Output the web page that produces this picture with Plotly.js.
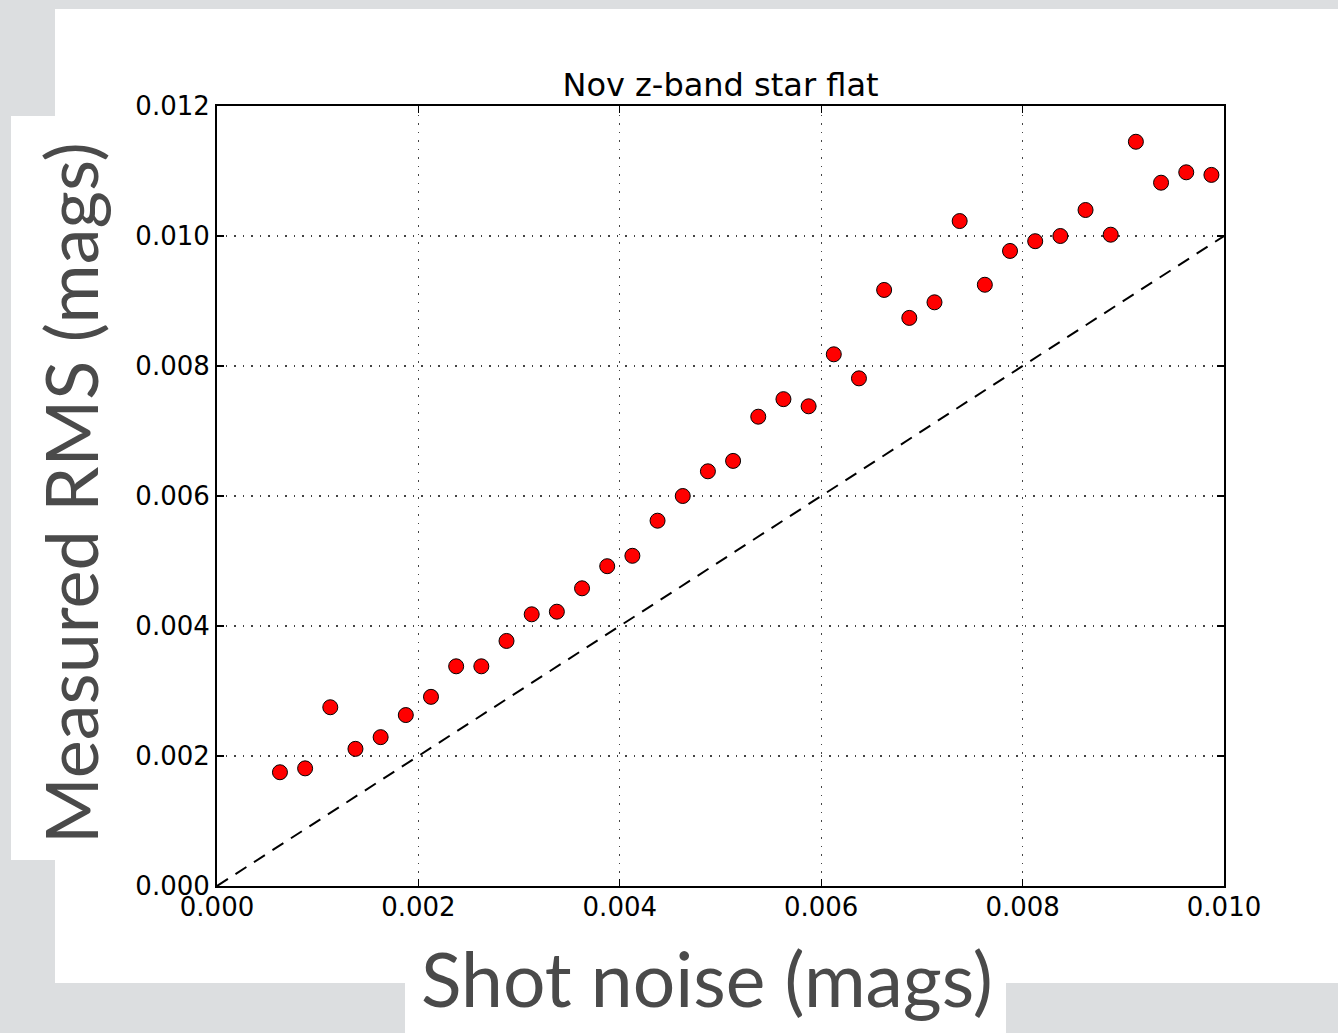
<!DOCTYPE html>
<html>
<head>
<meta charset="utf-8">
<script src="https://cdn.plot.ly/plotly-3.0.1.min.js"></script>
<style>
  html, body { margin: 0; padding: 0; background: #dcdee0; }
  #chart { width: 1338px; height: 1033px; }
</style>
</head>
<body>
<div id="chart"></div>
<script>
// ---- data ----
const shotNoise = [
  0.000625, 0.000875, 0.001125, 0.001375, 0.001625, 0.001875, 0.002125, 0.002375,
  0.002625, 0.002875, 0.003125, 0.003375, 0.003625, 0.003875, 0.004125, 0.004375,
  0.004625, 0.004875, 0.005125, 0.005375, 0.005625, 0.005875, 0.006125, 0.006375,
  0.006625, 0.006875, 0.007125, 0.007375, 0.007625, 0.007875, 0.008125, 0.008375,
  0.008625, 0.008875, 0.009125, 0.009375, 0.009625, 0.009875
];
const measuredRMS = [
  0.00175, 0.00181, 0.00275, 0.00211, 0.00229, 0.00263, 0.00291, 0.00338,
  0.00338, 0.00377, 0.00418, 0.00422, 0.00458, 0.00492, 0.00508, 0.00562,
  0.00600, 0.00638, 0.00654, 0.00722, 0.00749, 0.00738, 0.00818, 0.00781,
  0.00917, 0.00874, 0.00898, 0.01023, 0.00925, 0.00977, 0.00992, 0.01000,
  0.01040, 0.01002, 0.01145, 0.01082, 0.01098, 0.01094
];
const refLineX = [0.000, 0.010];
const refLineY = [0.000, 0.010];
const xTickVals = [0.000, 0.002, 0.004, 0.006, 0.008, 0.010];
const xTickText = ['0.000', '0.002', '0.004', '0.006', '0.008', '0.010'];
const yTickVals = [0.000, 0.002, 0.004, 0.006, 0.008, 0.010, 0.012];
const yTickText = ['0.000', '0.002', '0.004', '0.006', '0.008', '0.010', '0.012'];
const chartTitle = 'Nov z-band star flat';
const xTitle = 'Shot noise (mags)';
const yTitle = 'Measured RMS (mags)';

// ---- layout geometry (pixels) ----
const W = 1338, H = 1033;
const M = { l: 217, r: 114, t: 106, b: 147 };
const pw = W - M.l - M.r, ph = H - M.t - M.b;
const px = v => (v - M.l) / pw;          // pixel x -> paper x
const py = v => (H - M.b - v) / ph;      // pixel y -> paper y

const whiteBox = (x0, y0, x1, y1) => ({
  type: 'rect', xref: 'paper', yref: 'paper', layer: 'below',
  x0: px(x0), x1: px(x1), y0: py(y1), y1: py(y0),
  fillcolor: '#ffffff', line: { width: 0 }
});

const traces = [
  {
    x: refLineX, y: refLineY, mode: 'lines', type: 'scatter',
    line: { color: '#000000', width: 2, dash: '13px,9px' },
    hoverinfo: 'skip', showlegend: false
  },
  {
    x: shotNoise, y: measuredRMS, mode: 'markers', type: 'scatter',
    marker: { color: '#ff0000', size: 15, line: { color: '#000000', width: 1 } },
    showlegend: false, cliponaxis: false
  }
];

const axisCommon = {
  showline: true, linecolor: '#000000', linewidth: 2, mirror: 'ticks',
  ticks: 'inside', ticklen: 7, tickwidth: 1.2, tickcolor: '#000000',
  showgrid: true, gridcolor: '#444444', gridwidth: 1.3, griddash: '1.5px,7px',
  zeroline: false,
  tickfont: { family: 'DejaVu Sans', size: 26, color: '#000000' }
};

const layout = {
  width: W, height: H,
  margin: M,
  paper_bgcolor: '#dcdee0',
  plot_bgcolor: '#ffffff',
  showlegend: false,
  title: {
    text: chartTitle,
    font: { family: 'DejaVu Sans', size: 32, color: '#000000' },
    xref: 'paper', x: 0.5, xanchor: 'center',
    yref: 'container', y: 1 - 85 / H, yanchor: 'middle'
  },
  xaxis: Object.assign({}, axisCommon, {
    range: [0, 0.010], tickmode: 'array', tickvals: xTickVals, ticktext: xTickText,
    ticklabelstandoff: -3
  }),
  yaxis: Object.assign({}, axisCommon, {
    range: [0, 0.012], tickmode: 'array', tickvals: yTickVals, ticktext: yTickText,
    ticklabelstandoff: 0
  }),
  shapes: [
    whiteBox(55, 9, 1338, 983),
    whiteBox(11, 116, 60, 860),
    whiteBox(405, 975, 1006, 1033)
  ],
  annotations: [
    {
      text: xTitle, xref: 'paper', yref: 'paper', showarrow: false,
      x: px(707), y: py(978), xanchor: 'center', yanchor: 'middle',
      font: { family: 'Lato', size: 75, color: '#4a4a4a' }
    },
    {
      text: yTitle, xref: 'paper', yref: 'paper', showarrow: false, textangle: -90,
      x: px(70), y: py(493), xanchor: 'center', yanchor: 'middle',
      font: { family: 'Lato', size: 72, color: '#4a4a4a' }
    }
  ]
};

Plotly.newPlot('chart', traces, layout, { staticPlot: true, displayModeBar: false });
</script>
</body>
</html>
